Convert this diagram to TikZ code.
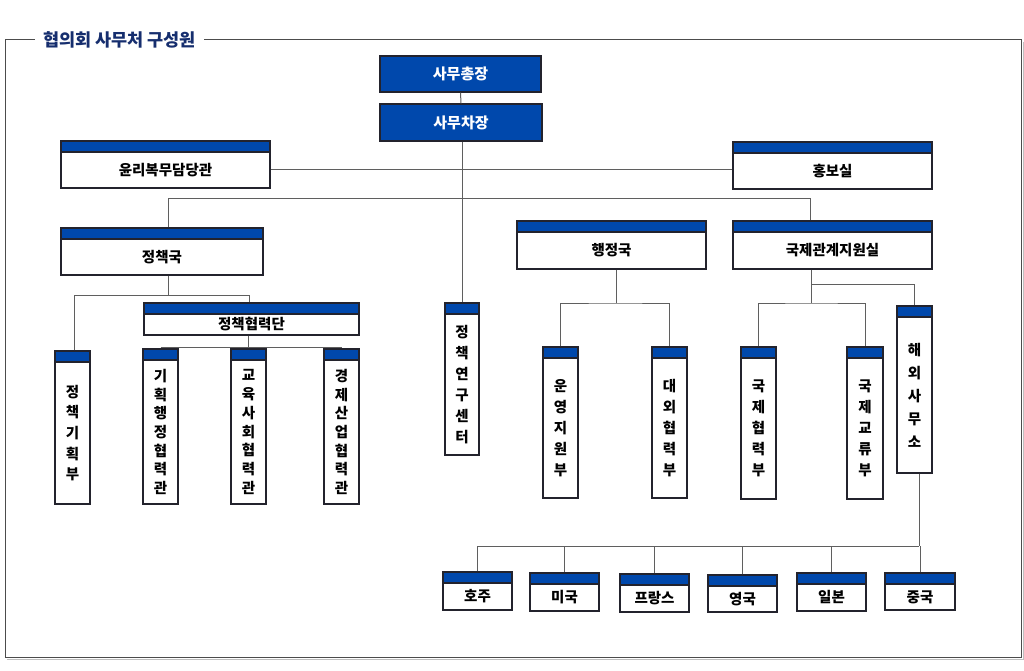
\documentclass[tikz,border=0pt]{standalone}
\usepackage{fontspec}
\newfontfamily\kfont{Noto Sans CJK KR}
\usetikzlibrary{fit,calc}
\definecolor{hdr}{RGB}{0,72,172}
\definecolor{bord}{RGB}{35,35,45}
\definecolor{lin}{RGB}{95,95,95}
\definecolor{navy}{RGB}{22,46,110}
\tikzset{
  obox/.style={draw=bord, line width=1.3pt, fill=white, inner sep=0pt,
    path picture={
      \fill[hdr] (path picture bounding box.north west) rectangle ([yshift=-11pt]path picture bounding box.north east);
      \draw[bord, line width=1.2pt] ([yshift=-11pt]path picture bounding box.north west) -- ([yshift=-11pt]path picture bounding box.north east);
    }},
  bluebox/.style={draw=bord, line width=1.3pt, fill=hdr, inner sep=0pt},
  otext/.style={font=\kfont\bfseries\fontsize{14.5}{17}\selectfont, text=black, inner sep=0pt},
  wtext/.style={font=\kfont\bfseries\fontsize{15}{17}\selectfont, text=white, inner sep=0pt},
  conn/.style={draw=lin, line width=1pt},
}
\newcommand\orgbox[6]{%
  \node[obox, fit={(#2,#3) (#4,#5)}] (#1) {};
  \node[otext] (#1-t) at ($(#1.center)+(0,5.5)$) {#6};
}
\newcommand\orgvbox[7]{%
  \node[obox, fit={(#2,#3) (#4,#5)}] (#1) {};
  \node[otext, align=center, font=\kfont\bfseries\fontsize{14.5}{#6}\selectfont] (#1-t) at ($(#1.center)+(0,5.5)$) {#7};
}
\begin{document}
\begin{tikzpicture}[x=1pt,y=-1pt]
\useasboundingbox[fill=white] (0,0) rectangle (1024,671);
% frame
\node[font=\kfont\bfseries\fontsize{17.5}{20}\selectfont, text=navy, inner xsep=8pt, inner ysep=0pt] (title) at (119.5,40) {협의회 사무처 구성원};
\draw[black!25, line width=1pt] (1023,42) -- (1023,659) -- (7,659);
\draw[black!70, line width=1pt] (title.east |- 0,40) -- (1021,40) -- (1021,657) -- (5,657) -- (5,40) -- (title.west |- 0,40);

\coordinate (b1) at (168,198);
\coordinate (b2) at (810,198);
\coordinate (c1) at (168,295);
\coordinate (c2) at (74,295);
\coordinate (c3) at (249,295);
\coordinate (d1) at (616,303);
\coordinate (e1) at (811,303);
\coordinate (e2) at (811,284);
\coordinate (f1) at (919,546);

% boxes
\node[bluebox, fit={(380,56) (541,92)}] (chong) {};
\node[wtext] (chong-t) at (chong.center) {사무총장};
\node[bluebox, fit={(380,104) (542,141)}] (cha) {};
\node[wtext] (cha-t) at (cha.center) {사무차장};

\orgbox{yunri}{61}{141}{270}{188}{윤리복무담당관}
\orgbox{hongbo}{733}{142}{932}{189}{홍보실}
\orgbox{jcg}{61}{228}{263}{275}{정책국}
\orgbox{hjg}{517}{221}{706}{269}{행정국}
\orgbox{gjg}{733}{221}{932}{269}{국제관계지원실}
\orgbox{jhd}{144}{303}{359}{335}{정책협력단}

\orgvbox{gihoekbu}{55}{351}{90}{504}{20.7}{정\\책\\기\\획\\부}
\orgvbox{ghhj}{143}{349}{178}{504}{18.7}{기\\획\\행\\정\\협\\력\\관}
\orgvbox{gyoyuk}{231}{349}{266}{504}{18.7}{교\\육\\사\\회\\협\\력\\관}
\orgvbox{gyeongje}{324}{349}{359}{504}{18.6}{경\\제\\산\\업\\협\\력\\관}
\orgvbox{yeongu}{445}{303}{479}{455}{21}{정\\책\\연\\구\\센\\터}
\orgvbox{unyeong}{543}{347}{578}{498}{21}{운\\영\\지\\원\\부}
\orgvbox{daeoe}{652}{347}{687}{498}{21}{대\\외\\협\\력\\부}
\orgvbox{gjhr}{741}{347}{776}{499}{21}{국\\제\\협\\력\\부}
\orgvbox{gjgr}{847}{347}{883}{499}{21}{국\\제\\교\\류\\부}
\orgvbox{haeoe}{897}{306}{932}{473}{23}{해\\외\\사\\무\\소}

\orgbox{hoju}{443}{572}{512}{610}{호주}
\orgbox{miguk}{530}{573}{599}{611}{미국}
\orgbox{france}{620}{574}{689}{612}{프랑스}
\orgbox{yeongguk}{708}{575}{777}{612}{영국}
\orgbox{ilbon}{797}{573}{866}{611}{일본}
\orgbox{jungguk}{885}{573}{955}{610}{중국}

% connectors
\draw[conn] (chong.south) -- (cha.north);
\draw[conn] (cha.south -| yeongu.north) -- (yeongu.north);
\draw[conn] (yunri.east |- yunri-t) -- (hongbo.west |- yunri-t);
\draw[conn] (jcg.north -| b1) -- (b1) -- (b2) -- (gjg.north -| b2);
\draw[conn] (jcg.south -| c1) -- (c1);
\draw[conn] (gihoekbu.north -| c2) -- (c2) -- (c3) -- (jhd.north -| c3);
\draw[conn] (jhd.south -| gyoyuk.north) -- (gyoyuk.north);
\draw[conn] ([yshift=1pt]ghhj.north) -- ([yshift=1pt]gyeongje.north);
\draw[conn] (hjg.south -| d1) -- (d1);
\draw[conn] (unyeong.north) |- (d1) -| (daeoe.north);
\draw[conn] (gjg.south -| e1) -- (e1);
\draw[conn] (gjhr.north) |- (e1) -| (gjgr.north);
\draw[conn] (e2) -| (haeoe.north);
\draw[conn] (haeoe.south -| f1) -- (f1);
\draw[conn] (hoju.north |- f1) -- (f1);
\foreach \n in {hoju,miguk,france,yeongguk,ilbon,jungguk}{
  \draw[conn] (\n.north) -- (\n.north |- f1);
}
\end{tikzpicture}
\end{document}
